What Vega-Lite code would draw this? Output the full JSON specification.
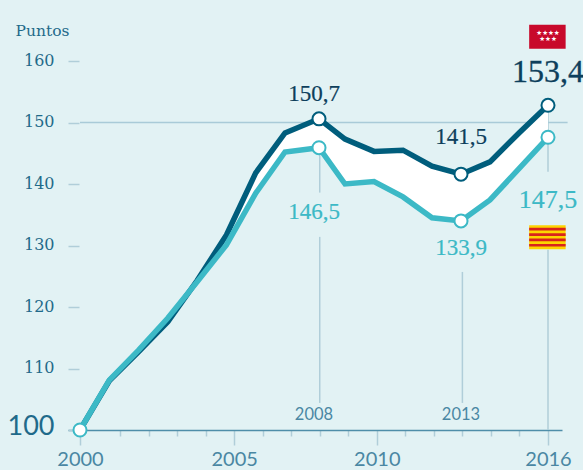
{
"$schema":"https://vega.github.io/schema/vega-lite/v6.json",
"width":515,"height":430,"autosize":"none",
"padding":{"left":68,"top":0,"right":0,"bottom":40},
"background":"#e2f2f4",
"view":{"stroke":null},
"datasets":{
"serie":[
{"year":2000,"madrid":100,"cataluna":100},
{"year":2001,"madrid":108.0,"cataluna":108.1},
{"year":2002,"madrid":112.7,"cataluna":113.0},
{"year":2003,"madrid":117.6,"cataluna":118.2},
{"year":2004,"madrid":124.3,"cataluna":124.1},
{"year":2005,"madrid":131.7,"cataluna":130.1},
{"year":2006,"madrid":141.8,"cataluna":138.5},
{"year":2007,"madrid":148.3,"cataluna":145.2},
{"year":2008,"madrid":150.6,"cataluna":145.9},
{"year":2009,"madrid":147.3,"cataluna":140.0},
{"year":2010,"madrid":145.3,"cataluna":140.4},
{"year":2011,"madrid":145.5,"cataluna":137.9},
{"year":2012,"madrid":142.9,"cataluna":134.5},
{"year":2013,"madrid":141.6,"cataluna":134.0},
{"year":2014,"madrid":143.6,"cataluna":137.4},
{"year":2015,"madrid":148.3,"cataluna":142.5},
{"year":2016,"madrid":152.8,"cataluna":147.6}],
"guias":[
{"year":2008,"from":149.6,"to":138.6},
{"year":2008,"from":131.4,"to":104.4},
{"year":2013,"from":125.7,"to":104.4},
{"year":2016,"from":152.8,"to":142.0},
{"year":2016,"from":129.3,"to":100}],
"banderas":[
{"part":"madrid","x":2015.34,"x2":2016.63,"y":165.9,"y2":162.0},
{"part":"amarillo","x":2015.34,"x2":2016.63,"y":133.3,"y2":129.4},
{"part":"rojo","x":2015.34,"x2":2016.63,"y":132.87,"y2":132.43},
{"part":"rojo","x":2015.34,"x2":2016.63,"y":132.0,"y2":131.56},
{"part":"rojo","x":2015.34,"x2":2016.63,"y":131.13,"y2":130.7},
{"part":"rojo","x":2015.34,"x2":2016.63,"y":130.26,"y2":129.83}],
"estrellas":[
{"x":2016,"y":164.55,"t":"★★★★"},
{"x":2016,"y":163.5,"t":"★★★"}],
"etiquetas":[
{"grupo":"oscuro","x":2007.853,"y":154.6,"t":"150,7"},
{"grupo":"oscuro","x":2013,"y":147.6,"t":"141,5"},
{"grupo":"oscuroG","x":2016,"y":158.2,"t":"153,4"},
{"grupo":"claro","x":2007.853,"y":135.4,"t":"146,5"},
{"grupo":"claro","x":2013,"y":129.6,"t":"133,9"},
{"grupo":"claroG","x":2016,"y":137.4,"t":"147,5"},
{"grupo":"anio","x":2007.853,"y":102.4,"t":"2008"},
{"grupo":"anio","x":2013,"y":102.4,"t":"2013"}]
},
"resolve":{"scale":{"x":"independent","y":"independent"}},
"layer":[
{"data":{"name":"guias"},
 "mark":{"type":"rule","color":"#b0ced9","strokeWidth":1.5},
 "encoding":{
  "x":{"field":"year","type":"quantitative","title":null,
   "scale":{"type":"linear","zero":false,"nice":false,"domain":[1999.7,2000,2001,2016,2016.5],"range":[0,12,52,480,494]},
   "axis":{"values":[2000,2001,2002,2003,2004,2005,2006,2007,2008,2009,2010,2011,2012,2013,2014,2015,2016],
    "labelExpr":"indexof([2000,2005,2010,2016],datum.value)>=0?''+datum.value:''",
    "grid":false,"domainColor":"#4f8ea9","domainWidth":1.5,"tickColor":"#b0ced9","tickWidth":1.5,
    "tickSize":{"condition":{"test":"indexof([2000,2005,2010,2016],datum.value)>=0","value":15},"value":6},
    "labelFont":"Lato","labelFontSize":20,"labelColor":"#4a87a3","labelPadding":4,"labelOverlap":false,"labelBound":false,"labelFlush":false}},
  "y":{"field":"from","type":"quantitative","title":"Puntos",
   "scale":{"zero":false,"nice":false,"domain":[100,160],"range":[430,61]},
   "axis":{"values":[100,110,120,130,140,150,160],"offset":-11,"grid":false,"domain":false,
    "tickColor":"#b0ced9","tickWidth":1.5,"tickSize":11,"labelPadding":14,
    "labelOffset":{"condition":{"test":"datum.value===100","value":-4},"value":-1},
    "labelFont":{"condition":{"test":"datum.value===100","value":"Lato"},"value":"DejaVu Serif"},
    "labelFontSize":{"condition":{"test":"datum.value===100","value":27},"value":16},
    "labelColor":"#1f6a8a",
    "titleFont":"DejaVu Serif","titleFontSize":15.5,"titleFontWeight":"normal","titleColor":"#1f6a8a",
    "titleAngle":0,"titleX":-37,"titleY":30,"titleAlign":"center","titleBaseline":"middle"}},
  "y2":{"field":"to"}}},
{"data":{"values":[{"desde":2000,"hasta":2016.7,"nivel":150}]},
 "mark":{"type":"rule","color":"#a9cbd8","strokeWidth":1.5},
 "encoding":{
  "x":{"field":"desde","type":"quantitative","axis":null,
   "scale":{"type":"linear","zero":false,"nice":false,"domain":[1999.7,2000,2001,2016,2016.5],"range":[0,12,52,480,494]}},
  "x2":{"field":"hasta"},
  "y":{"field":"nivel","type":"quantitative","axis":null,"scale":{"zero":false,"nice":false,"domain":[100,160],"range":[430,61]}}}},
{"data":{"name":"serie"},
 "mark":{"type":"area","color":"#ffffff","interpolate":"linear"},
 "encoding":{
  "x":{"field":"year","type":"quantitative","axis":null,
   "scale":{"type":"linear","zero":false,"nice":false,"domain":[2000,2007,2008,2009,2016],"range":[12,217,251,277,480]}},
  "y":{"field":"madrid","type":"quantitative","axis":null,"scale":{"zero":false,"nice":false,"domain":[100,160],"range":[430,61]}},
  "y2":{"field":"cataluna"}}},
{"data":{"name":"serie"},
 "mark":{"type":"line","color":"#005d7c","strokeWidth":5.5,"strokeJoin":"miter"},
 "encoding":{
  "x":{"field":"year","type":"quantitative","axis":null,
   "scale":{"type":"linear","zero":false,"nice":false,"domain":[2000,2007,2008,2009,2016],"range":[12,217,251,277,480]}},
  "y":{"field":"madrid","type":"quantitative","axis":null,"scale":{"zero":false,"nice":false,"domain":[100,160],"range":[430,61]}}}},
{"data":{"name":"serie"},
 "mark":{"type":"line","color":"#3cb9c6","strokeWidth":5.5,"strokeJoin":"miter"},
 "encoding":{
  "x":{"field":"year","type":"quantitative","axis":null,
   "scale":{"type":"linear","zero":false,"nice":false,"domain":[2000,2007,2008,2009,2016],"range":[12,217,251,277,480]}},
  "y":{"field":"cataluna","type":"quantitative","axis":null,"scale":{"zero":false,"nice":false,"domain":[100,160],"range":[430,61]}}}},
{"data":{"name":"serie"},
 "transform":[{"filter":"indexof([2008,2013,2016],datum.year)>=0"}],
 "mark":{"type":"point","filled":true,"fill":"#ffffff","stroke":"#005d7c","strokeWidth":2,"size":170,"opacity":1},
 "encoding":{
  "x":{"field":"year","type":"quantitative","axis":null,
   "scale":{"type":"linear","zero":false,"nice":false,"domain":[2000,2007,2008,2009,2016],"range":[12,217,251,277,480]}},
  "y":{"field":"madrid","type":"quantitative","axis":null,"scale":{"zero":false,"nice":false,"domain":[100,160],"range":[430,61]}}}},
{"data":{"name":"serie"},
 "transform":[{"filter":"indexof([2000,2008,2013,2016],datum.year)>=0"}],
 "mark":{"type":"point","filled":true,"fill":"#ffffff","stroke":"#3cb9c6","strokeWidth":2,"size":170,"opacity":1},
 "encoding":{
  "x":{"field":"year","type":"quantitative","axis":null,
   "scale":{"type":"linear","zero":false,"nice":false,"domain":[2000,2007,2008,2009,2016],"range":[12,217,251,277,480]}},
  "y":{"field":"cataluna","type":"quantitative","axis":null,"scale":{"zero":false,"nice":false,"domain":[100,160],"range":[430,61]}}}},
{"data":{"name":"banderas"},
 "mark":{"type":"rect"},
 "encoding":{
  "x":{"field":"x","type":"quantitative","axis":null,
   "scale":{"type":"linear","zero":false,"nice":false,"domain":[1999.7,2000,2001,2016,2016.5],"range":[0,12,52,480,494]}},
  "x2":{"field":"x2"},
  "y":{"field":"y","type":"quantitative","axis":null,"scale":{"zero":false,"nice":false,"domain":[100,160],"range":[430,61]}},
  "y2":{"field":"y2"},
  "color":{"field":"part","type":"nominal","legend":null,"sort":null,
   "scale":{"domain":["madrid","amarillo","rojo"],"range":["#c8092b","#fdd500","#d8241c"]}}}},
{"data":{"name":"estrellas"},
 "mark":{"type":"text","font":"DejaVu Sans","fontSize":6.5,"color":"#ffffff","baseline":"middle","align":"center"},
 "encoding":{
  "x":{"field":"x","type":"quantitative","axis":null,
   "scale":{"type":"linear","zero":false,"nice":false,"domain":[2000,2007,2008,2009,2016],"range":[12,217,251,277,480]}},
  "y":{"field":"y","type":"quantitative","axis":null,"scale":{"zero":false,"nice":false,"domain":[100,160],"range":[430,61]}},
  "text":{"field":"t"}}},
{"data":{"name":"etiquetas"},
 "transform":[{"filter":"datum.grupo==='oscuro'"}],
 "mark":{"type":"text","font":"Liberation Serif","fontSize":23,"color":"#0d3f5c","stroke":"#0d3f5c","strokeWidth":0.2,"baseline":"middle","align":"center"},
 "encoding":{
  "x":{"field":"x","type":"quantitative","axis":null,
   "scale":{"type":"linear","zero":false,"nice":false,"domain":[2000,2007,2008,2009,2016],"range":[12,217,251,277,480]}},
  "y":{"field":"y","type":"quantitative","axis":null,"scale":{"zero":false,"nice":false,"domain":[100,160],"range":[430,61]}},
  "text":{"field":"t"}}},
{"data":{"name":"etiquetas"},
 "transform":[{"filter":"datum.grupo==='oscuroG'"}],
 "mark":{"type":"text","font":"Liberation Serif","fontSize":32,"color":"#0d3f5c","stroke":"#0d3f5c","strokeWidth":0.3,"baseline":"middle","align":"center"},
 "encoding":{
  "x":{"field":"x","type":"quantitative","axis":null,
   "scale":{"type":"linear","zero":false,"nice":false,"domain":[2000,2007,2008,2009,2016],"range":[12,217,251,277,480]}},
  "y":{"field":"y","type":"quantitative","axis":null,"scale":{"zero":false,"nice":false,"domain":[100,160],"range":[430,61]}},
  "text":{"field":"t"}}},
{"data":{"name":"etiquetas"},
 "transform":[{"filter":"datum.grupo==='claro'"}],
 "mark":{"type":"text","font":"Liberation Serif","fontSize":23,"color":"#3cb9c6","stroke":"#3cb9c6","strokeWidth":0.2,"baseline":"middle","align":"center"},
 "encoding":{
  "x":{"field":"x","type":"quantitative","axis":null,
   "scale":{"type":"linear","zero":false,"nice":false,"domain":[2000,2007,2008,2009,2016],"range":[12,217,251,277,480]}},
  "y":{"field":"y","type":"quantitative","axis":null,"scale":{"zero":false,"nice":false,"domain":[100,160],"range":[430,61]}},
  "text":{"field":"t"}}},
{"data":{"name":"etiquetas"},
 "transform":[{"filter":"datum.grupo==='claroG'"}],
 "mark":{"type":"text","font":"Liberation Serif","fontSize":26,"color":"#3cb9c6","stroke":"#3cb9c6","strokeWidth":0.2,"baseline":"middle","align":"center"},
 "encoding":{
  "x":{"field":"x","type":"quantitative","axis":null,
   "scale":{"type":"linear","zero":false,"nice":false,"domain":[2000,2007,2008,2009,2016],"range":[12,217,251,277,480]}},
  "y":{"field":"y","type":"quantitative","axis":null,"scale":{"zero":false,"nice":false,"domain":[100,160],"range":[430,61]}},
  "text":{"field":"t"}}},
{"data":{"name":"etiquetas"},
 "transform":[{"filter":"datum.grupo==='anio'"}],
 "mark":{"type":"text","font":"Lato","fontSize":16.5,"color":"#4a87a3","baseline":"middle","align":"center"},
 "encoding":{
  "x":{"field":"x","type":"quantitative","axis":null,
   "scale":{"type":"linear","zero":false,"nice":false,"domain":[2000,2007,2008,2009,2016],"range":[12,217,251,277,480]}},
  "y":{"field":"y","type":"quantitative","axis":null,"scale":{"zero":false,"nice":false,"domain":[100,160],"range":[430,61]}},
  "text":{"field":"t"}}}
]
}
